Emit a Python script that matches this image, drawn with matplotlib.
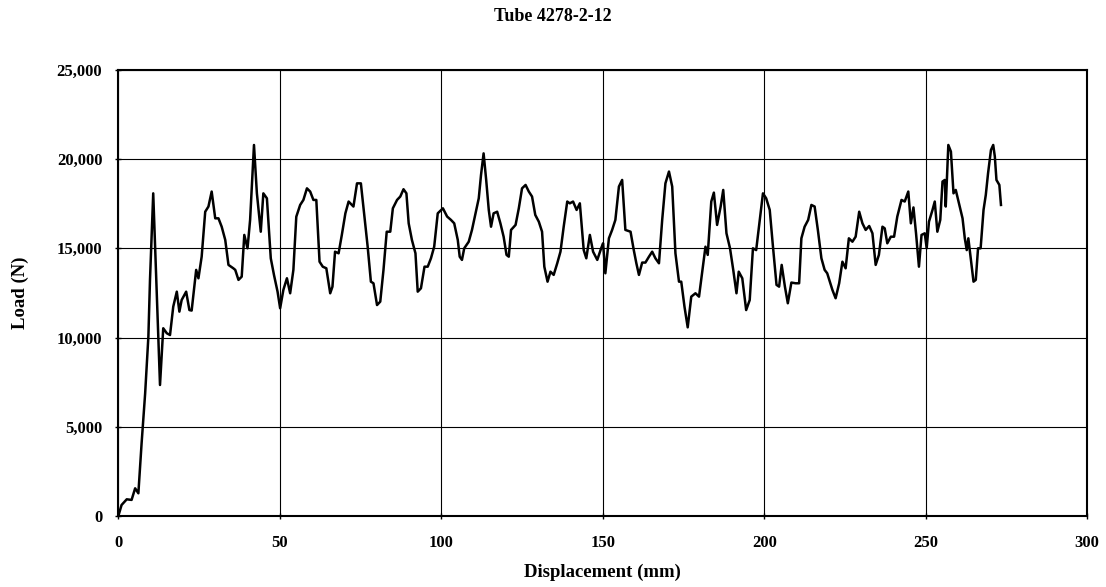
import numpy as np
import matplotlib.pyplot as plt
from matplotlib.ticker import FuncFormatter, MultipleLocator

# Displacement (mm) and load (N)
disp = [0, 1.0, 2.6, 4.1, 5.2, 6.2, 7.2, 8.3, 9.3, 9.8, 10.8, 11.9, 12.9, 13.9, 15.0, 16.0,
        17.0, 18.1, 18.9, 19.6, 21.0, 22.0, 22.7, 24.1, 24.8, 25.8, 26.9, 27.9, 28.9, 30.0,
        31.0, 32.0, 33.1, 34.1, 35.6, 36.2, 37.2, 38.2, 39.0, 40.0, 40.8, 42.0, 42.9, 44.1,
        44.9, 46.0, 47.2, 48.2, 49.3, 50.1, 51.1, 52.2, 53.2, 54.2, 55.1, 56.3, 57.3, 58.4,
        59.4, 60.4, 61.3, 62.3, 63.3, 64.4, 65.6, 66.3, 67.1, 68.2, 69.2, 70.3, 71.3, 72.8,
        73.9, 75.1, 76.2, 77.2, 78.2, 79.0, 80.1, 81.1, 82.1, 83.1, 84.2, 85.0, 86.3, 87.3,
        88.3, 89.2, 89.9, 90.9, 92.0, 92.7, 93.7, 94.8, 95.8, 96.8, 97.8, 98.9, 100.5, 101.8,
        103.0, 104.0, 105.1, 105.7, 106.4, 107.1, 108.5, 109.5, 110.5, 111.6, 112.3, 113.1,
        113.9, 114.7, 115.4, 116.2, 117.3, 118.3, 119.3, 120.2, 120.9, 121.6, 123.0, 124.0,
        125.0, 126.1, 127.1, 128.1, 129.1, 130.2, 131.2, 131.9, 132.9, 133.8, 134.8, 135.9,
        136.9, 137.9, 139.0, 139.8, 140.8, 141.9, 142.9, 144.1, 144.9, 146.0, 147.0, 148.3,
        149.5, 150.1, 150.8, 151.9, 152.9, 153.9, 155.0, 156.0, 157.0, 158.6, 159.6, 160.4,
        161.2, 162.2, 163.2, 164.3, 165.3, 166.3, 167.4, 168.4, 169.4, 170.5, 171.5, 172.5,
        173.6, 174.3, 175.3, 176.3, 177.4, 178.7, 179.8, 180.8, 181.8, 182.5, 183.6, 184.4,
        185.4, 186.5, 187.3, 188.3, 189.4, 190.4, 191.4, 192.1, 193.2, 194.4, 195.5, 196.5,
        197.5, 198.6, 199.6, 200.6, 201.7, 202.7, 203.8, 204.6, 205.4, 206.4, 207.3, 208.4,
        209.7, 210.8, 211.5, 212.5, 213.6, 214.6, 215.6, 216.6, 217.7, 218.7, 219.5, 221.1,
        222.1, 223.2, 224.2, 225.2, 226.2, 227.3, 228.3, 229.4, 230.4, 231.4, 232.5, 233.5,
        234.5, 235.5, 236.6, 237.3, 238.1, 239.2, 240.2, 241.2, 242.5, 243.5, 244.6, 245.4,
        246.2, 247.0, 247.9, 248.7, 249.7, 250.3, 251.0, 252.1, 252.8, 253.6, 254.5, 255.2,
        255.9, 256.2, 257.0, 257.8, 258.6, 259.3, 260.3, 261.4, 262.1, 262.7, 263.2, 264.0,
        264.8, 265.5, 266.2, 267.0, 267.9, 268.6, 269.3, 270.2, 270.9, 271.4, 271.9, 272.8,
        273.3]
load = [0, 616, 934, 900, 1550, 1270, 4070, 6870, 10050, 13230, 18080, 12480, 7340, 10520,
        10240, 10140, 11730, 12570, 11450, 12100, 12570, 11540, 11510, 13790, 13320, 14530,
        17050, 17340, 18180, 16680, 16680, 16210, 15470, 14070, 13880, 13790, 13230, 13410,
        15750, 15000, 16590, 20790, 18080, 15930, 18080, 17800, 14440, 13500, 12570, 11640,
        12670, 13320, 12480, 13790, 16770, 17430, 17710, 18360, 18180, 17710, 17710, 14250,
        13970, 13880, 12480, 12850, 14810, 14720, 15750, 16960, 17620, 17340, 18640, 18640,
        16780, 15090, 13130, 13040, 11820, 12010, 13790, 15930, 15930, 17240, 17710, 17900,
        18310, 18080, 16400, 15470, 14720, 12570, 12760, 13970, 13970, 14440, 15090, 16960,
        17240, 16780, 16590, 16400, 15470, 14530, 14350, 15000, 15370, 16030, 16870, 17800,
        19110, 20320, 18830, 17150, 16210, 16960, 17050, 16400, 15650, 14630, 14530, 16030,
        16310, 17240, 18360, 18550, 18180, 17900, 16870, 16490, 15930, 13970, 13130, 13690,
        13510, 14160, 14810, 16210, 17620, 17520, 17620, 17150, 17520, 14900, 14440, 15750,
        14810, 14350, 15000, 15280, 13600, 15560, 16030, 16590, 18460, 18830, 16030, 15930,
        14900, 14160, 13510, 14200, 14200, 14530, 14810, 14440, 14160, 16590, 18640, 19300,
        18460, 14720, 13130, 13130, 11730, 10570, 12290, 12480, 12290, 13690, 15090, 14630,
        17620, 18120, 16310, 17340, 18270, 15840, 15000, 13790, 12480, 13690, 13320, 11540,
        12100, 15000, 14900, 16590, 18080, 17800, 17150, 15090, 12950, 12850, 14070, 12850,
        11920, 13080, 13040, 13040, 15560, 16210, 16590, 17430, 17340, 16030, 14440, 13790,
        13600, 12670, 12200, 13040, 14250, 13880, 15560, 15370, 15650, 17050, 16400, 16030,
        16250, 15840, 14070, 14630, 16210, 16120, 15280, 15650, 15650, 16780, 17710, 17620,
        18180, 16400, 17290, 15840, 13970, 15750, 15840, 15000, 16490, 17150, 17620, 15930,
        16590, 18740, 18830, 17340, 20790, 20420, 18080, 18270, 17520, 16680, 15560, 14900,
        15560, 14350, 13130, 13230, 15000, 15000, 17150, 17990, 19200, 20510, 20790, 20140,
        18830, 18550, 17430]

plt.rcParams['font.family'] = ['Liberation Serif', 'DejaVu Serif']
plt.rcParams['font.weight'] = 'bold'

fig = plt.figure(figsize=(11.06, 5.87), dpi=100)
ax = fig.add_axes([0.107, 0.121, 0.876, 0.760])

ax.plot(disp, load, color='black', linewidth=1.8)

ax.set_xlim(0, 300)
ax.set_ylim(0, 25000)
ax.xaxis.set_major_locator(MultipleLocator(50))
ax.yaxis.set_major_locator(MultipleLocator(5000))
ax.yaxis.set_major_formatter(FuncFormatter(lambda v, p: f'{int(v):,}'))
ax.grid(True, color='black', linewidth=0.8)
ax.tick_params(direction='inout', length=5, width=1, labelsize=12)
ax.tick_params(axis='x', pad=11)
ax.tick_params(axis='y', pad=9)
for lab in ax.get_xticklabels() + ax.get_yticklabels():
    lab.set_fontweight('bold')
for s in ax.spines.values():
    s.set_linewidth(1.5)

ax.set_xlabel('Displacement (mm)', fontsize=13.5, fontweight='bold', labelpad=9)
ax.set_ylabel('Load (N)', fontsize=13.5, fontweight='bold', labelpad=20)
fig.text(0.5, 0.972, 'Tube 4278-2-12', ha='center', va='center', fontsize=13, fontweight='bold')

plt.savefig('out.png', dpi=100)
